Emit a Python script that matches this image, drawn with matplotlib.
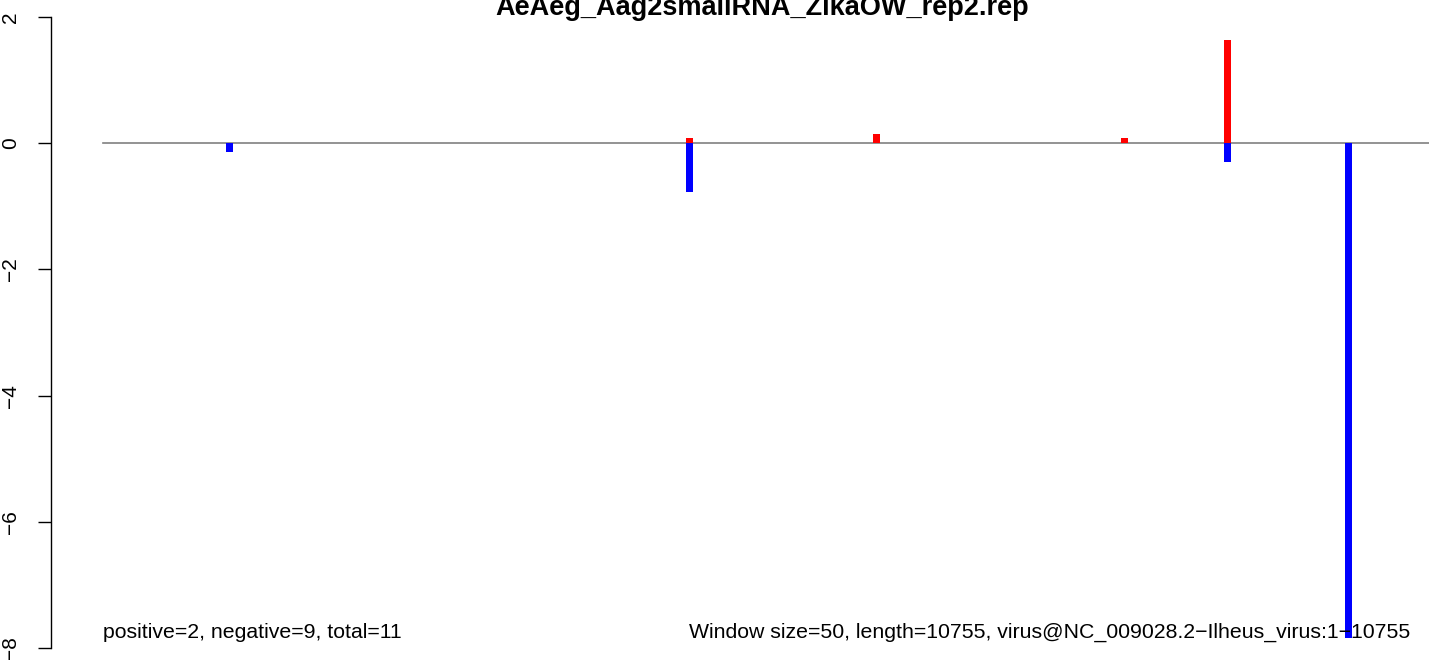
import matplotlib
matplotlib.use("Agg")
from matplotlib import pyplot as plt

# window start positions and counts (positive strand up, negative strand down)
pos_x = [4850, 6400, 8450, 9300]
pos_val = [0.08, 0.14, 0.08, 1.63]
neg_x = [1050, 4850, 9300, 10300]
neg_val = [-0.14, -0.77, -0.29, -7.84]
seq_len = 10755
y_ticks = [2, 0, -2, -4, -6, -8]

plt.rcParams['font.family'] = ['Liberation Sans', 'DejaVu Sans']

fig = plt.figure(figsize=(14.29, 6.6), dpi=100)
ax = fig.add_axes([51 / 1429, 0, 1 - 51 / 1429, 1])
xlim = (-430, 10968)
ax.set_xlim(*xlim)
ax.set_ylim(-8.19, 2.27)

ax.axhline(0, xmin=(0 - xlim[0]) / (xlim[1] - xlim[0]), xmax=1,
           color="gray", linewidth=1.2, zorder=1)
ax.bar(pos_x, pos_val, width=58, color="red", zorder=2)
ax.bar(neg_x, neg_val, width=58, color="blue", zorder=2)

for side in ["top", "right", "bottom"]:
    ax.spines[side].set_visible(False)
ax.spines["left"].set_bounds(-8, 2)
ax.spines["left"].set_linewidth(1.0)
ax.set_xticks([])
ax.set_yticks(y_ticks)
ax.set_yticklabels([str(t).replace("-", "\u2212") for t in y_ticks],
                   rotation=90, va="center", fontsize=15)
ax.tick_params(axis="y", length=9.5, width=1.0, pad=13)

ax.text(0, -7.75, "positive=2, negative=9, total=11", fontsize=15.3,
        ha="left", va="center")
ax.text(4847, -7.75,
        "Window size=50, length=10755, virus@NC_009028.2\u2212Ilheus_virus:1\u221210755",
        fontsize=15.3, ha="left", va="center")

fig.text(762 / 1429, 1 - 15 / 660, "AeAeg_Aag2smallRNA_ZikaOW_rep2.rep",
         fontsize=19.5, fontweight="bold", ha="center", va="baseline")

fig.savefig("out.png", dpi=100)
